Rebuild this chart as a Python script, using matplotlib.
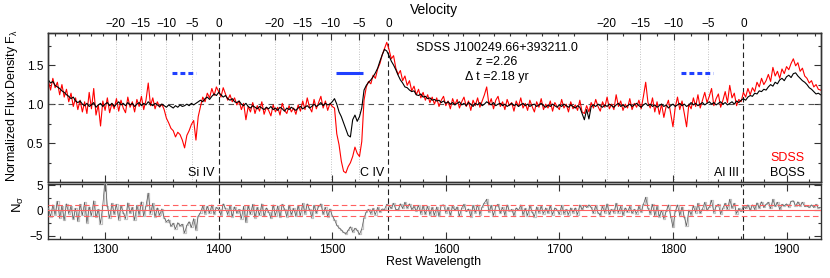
import numpy as np
import matplotlib
matplotlib.use('Agg')
import matplotlib.pyplot as plt
from matplotlib.ticker import MultipleLocator

plt.rcParams['font.family'] = ['Liberation Sans', 'DejaVu Sans']
plt.rcParams['mathtext.fontset'] = 'custom'
plt.rcParams['mathtext.rm'] = 'Liberation Sans'
plt.rcParams['mathtext.it'] = 'Liberation Sans'
plt.rcParams['mathtext.sf'] = 'Liberation Sans'

# ---------------- data ----------------
wave_start = 1250   # Angstrom, rest frame
wave_step = 2

boss = [
    1.31, 1.27, 1.29, 1.24, 1.22, 1.20, 1.17, 1.15, 1.12, 1.10,
    1.07, 1.09, 1.04, 1.02, 1.04, 1.00, 0.98, 1.01, 0.97, 0.99,
    1.02, 0.96, 0.99, 1.01, 0.97, 1.00, 1.02, 0.98, 1.01, 0.97,
    1.00, 1.03, 0.99, 1.01, 0.98, 1.02, 0.99, 1.01, 0.97, 1.00,
    1.02, 0.98, 1.01, 0.99, 1.03, 1.00, 0.98, 1.01, 0.99, 0.97,
    1.00, 0.98, 0.96, 0.99, 0.97, 0.95, 0.98, 0.96, 0.99, 0.97,
    0.98, 1.00, 0.98, 1.01, 0.99, 1.01, 1.03, 1.05, 1.03, 1.07,
    1.09, 1.06, 1.10, 1.13, 1.11, 1.15, 1.12, 1.09, 1.11, 1.07,
    1.05, 1.07, 1.03, 1.02, 1.04, 1.00, 0.98, 1.01, 0.97, 0.95,
    0.98, 0.96, 0.94, 0.97, 0.95, 0.93, 0.96, 0.94, 0.97, 0.93,
    0.95, 0.92, 0.96, 0.94, 0.91, 0.95, 0.93, 0.96, 0.94, 0.92,
    0.95, 0.97, 0.94, 0.96, 0.98, 0.95, 0.97, 1.00, 0.97, 0.99,
    1.02, 0.98, 1.01, 0.99, 1.00, 1.03, 1.07, 1.00, 0.90, 0.84,
    0.76, 0.68, 0.60, 0.58, 0.80, 0.86, 0.78, 0.84, 0.95, 1.18,
    1.24, 1.28, 1.31, 1.35, 1.40, 1.46, 1.55, 1.63, 1.70, 1.68,
    1.62, 1.55, 1.50, 1.44, 1.37, 1.31, 1.27, 1.22, 1.21, 1.18,
    1.16, 1.17, 1.12, 1.11, 1.13, 1.09, 1.10, 1.07, 1.08, 1.05,
    1.06, 1.04, 1.05, 1.02, 1.04, 1.01, 1.03, 1.00, 1.02, 0.99,
    1.01, 1.03, 0.99, 1.01, 0.98, 1.02, 1.00, 0.97, 1.01, 0.99,
    1.02, 0.98, 1.00, 1.03, 1.01, 0.99, 1.02, 0.98, 1.00, 1.01,
    0.98, 1.00, 0.97, 0.99, 1.01, 0.98, 1.00, 0.97, 0.99, 1.01,
    0.98, 1.00, 0.97, 0.99, 1.00, 0.97, 0.99, 1.01, 0.98, 0.96,
    0.99, 0.97, 1.00, 0.98, 0.96, 0.99, 0.97, 1.00, 0.98, 0.96,
    0.99, 0.97, 0.95, 0.98, 0.96, 0.88, 0.80, 0.93, 0.81, 0.97,
    0.99, 0.97, 1.00, 0.98, 0.96, 0.99, 0.97, 1.00, 0.98, 0.96,
    0.99, 1.01, 0.97, 0.99, 0.96, 0.98, 1.00, 0.97, 0.99, 1.01,
    0.98, 0.96, 0.99, 1.01, 0.98, 1.00, 0.97, 0.99, 0.96, 0.98,
    1.00, 0.97, 0.99, 0.95, 0.98, 1.00, 0.97, 0.99, 1.01, 0.98,
    1.00, 0.97, 0.99, 1.02, 0.99, 1.01, 0.98, 1.00, 1.02, 0.99,
    1.01, 1.03, 1.00, 1.02, 0.99, 1.01, 1.03, 1.00, 1.02, 0.99,
    1.01, 1.03, 1.00, 1.04, 1.02, 1.05, 1.07, 1.05, 1.09, 1.11,
    1.10, 1.14, 1.13, 1.17, 1.16, 1.19, 1.18, 1.22, 1.25, 1.23,
    1.28, 1.26, 1.31, 1.33, 1.30, 1.35, 1.37, 1.34, 1.39, 1.40,
    1.36, 1.33, 1.30, 1.28, 1.25, 1.21, 1.19, 1.16, 1.13, 1.14,
    1.12,
]

sdss = [
    1.30, 1.18, 1.33, 1.21, 1.28, 1.12, 1.25, 1.09, 1.19, 1.03,
    1.14, 0.97, 1.08, 0.93, 1.05, 0.90, 1.03, 0.88, 1.15, 0.94,
    1.20, 0.86, 0.99, 0.72, 1.04, 0.92, 1.08, 0.89, 1.01, 0.94,
    1.07, 0.91, 1.05, 0.95, 0.89, 1.09, 0.96, 1.03, 0.90, 1.06,
    0.97, 1.10, 0.93, 1.05, 1.27, 0.98, 1.08, 0.94, 1.03, 0.96,
    1.00, 0.93, 0.82, 0.76, 0.69, 0.66, 0.58, 0.64, 0.61, 0.54,
    0.44, 0.60, 0.66, 0.74, 0.79, 0.54, 0.84, 0.97, 1.09, 1.03,
    1.14, 1.08, 1.20, 1.11, 1.22, 1.16, 1.09, 1.21, 1.13, 1.05,
    1.12, 1.03, 1.08, 0.99, 1.04, 0.93, 1.01, 0.80, 0.97, 0.90,
    1.02, 0.88, 0.98, 0.91, 1.03, 0.87, 0.96, 0.92, 0.85, 0.99,
    0.90, 0.96, 0.86, 1.01, 0.92, 0.88, 0.98, 0.90, 0.95, 0.87,
    0.99, 0.91, 1.04, 0.93, 1.08, 0.96, 0.90, 1.06, 0.94, 1.02,
    1.10, 0.95, 1.04, 0.92, 1.01, 0.97, 0.95, 0.62, 0.48, 0.27,
    0.14, 0.12, 0.20, 0.25, 0.33, 0.45, 0.37, 0.33, 0.52, 1.05,
    1.22, 1.29, 1.26, 1.37, 1.33, 1.45, 1.52, 1.63, 1.71, 1.79,
    1.70, 1.58, 1.62, 1.46, 1.38, 1.43, 1.30, 1.36, 1.24, 1.30,
    1.17, 1.23, 1.12, 1.19, 1.08, 1.15, 1.05, 1.12, 1.02, 1.09,
    1.00, 1.08, 0.97, 1.05, 1.10, 0.98, 1.04, 0.94, 1.07, 0.99,
    1.06, 0.95, 1.03, 1.09, 0.97, 1.04, 0.92, 1.05, 0.98, 1.08,
    0.96, 1.04, 1.12, 1.22, 0.99, 1.07, 0.94, 1.05, 1.10, 0.97,
    1.03, 0.93, 1.06, 0.98, 1.02, 0.91, 1.04, 0.97, 1.08, 0.95,
    1.01, 0.92, 1.05, 0.97, 0.90, 1.03, 0.96, 1.07, 0.93, 1.00,
    0.95, 1.04, 0.91, 1.02, 0.97, 0.93, 1.06, 0.95, 1.00, 0.90,
    1.03, 0.94, 0.99, 0.92, 1.05, 0.90, 0.88, 0.98, 0.90, 1.02,
    0.95, 1.06, 0.97, 0.91, 1.03, 0.96, 1.09, 0.94, 1.00, 0.93,
    1.12, 0.97, 1.04, 0.92, 1.00, 0.95, 1.07, 0.93, 1.01, 0.96,
    1.05, 0.94, 1.10, 1.28, 1.02, 0.95, 1.08, 0.90, 1.03, 0.87,
    1.00, 0.83, 0.97, 1.05, 0.88, 0.71, 0.96, 1.09, 0.93, 1.04,
    0.88, 0.71, 1.00, 0.94, 1.08, 0.97, 1.12, 0.95, 1.05, 1.15,
    1.02, 1.10, 1.20, 0.98, 1.07, 1.13, 0.96, 1.05, 1.16, 1.02,
    1.24, 1.08, 1.14, 0.98, 1.06, 1.03, 1.15, 1.09, 1.20, 1.12,
    1.21, 1.16, 1.28, 1.22, 1.33, 1.25, 1.30, 1.38, 1.29, 1.47,
    1.36, 1.42, 1.33, 1.45, 1.39, 1.48, 1.44, 1.52, 1.58, 1.49,
    1.53, 1.42, 1.46, 1.36, 1.33, 1.27, 1.30, 1.22, 1.25, 1.19,
    1.18,
]

nsigma = [
    0.5, -1.2, 1.1, -0.8, 1.8, -1.5, 0.9, -1.9, 1.3, -0.6,
    0.8, -1.7, 0.4, -2.1, 1.2, -0.9, 1.6, -2.4, 0.7, -1.0,
    1.9, -1.3, 0.2, -2.6, 1.1, 6.2, 0.8, -1.5, 1.4, -0.7,
    1.2, -1.8, 0.9, -0.4, -1.6, 1.5, -0.5, 0.6, -1.9, 1.0,
    -0.8, 1.7, -1.1, 0.9, 3.4, -0.6, 1.4, -1.2, 0.5, -0.9,
    0.3, -1.4, -2.2, -1.8, -3.1, -2.5, -3.6, -2.4, -3.0, -2.7,
    -4.4, -2.9, -2.2, -3.3, -1.6, -3.8, -1.1, -0.4, 0.9, -0.6,
    0.8, -0.5, 1.1, -0.7, 0.6, 0.2, -0.9, 1.3, 0.4, -0.8,
    1.0, -1.2, 0.7, -0.5, 0.2, -1.6, 0.8, -2.3, 0.9, -0.7,
    1.2, -1.4, 0.6, -0.9, 1.3, -1.1, 0.5, -0.3, -1.5, 1.1,
    -1.0, 0.9, -1.3, 1.2, 0.3, -1.2, 1.0, -0.8, 0.4, -1.1,
    0.9, -1.0, 1.4, -0.6, 1.3, 0.2, -1.4, 1.0, -0.5, 0.8,
    1.3, -0.7, 0.6, -1.2, 0.3, -1.0, -1.8, -2.9, -3.4, -3.8,
    -4.3, -4.6, -3.9, -3.2, -4.2, -3.5, -3.9, -4.7, -3.6, -1.4,
    -0.3, 0.2, -0.6, 0.4, -0.8, 0.6, -0.3, 0.3, 0.2, 1.2,
    0.9, 0.4, 1.4, 0.2, 0.1, 1.3, 0.4, 1.6, 0.5, 1.3,
    0.2, 0.8, -0.1, 1.0, -0.6, 0.9, -0.7, 0.8, -0.8, 0.6,
    -0.9, 0.7, -1.1, 1.0, 1.1, -0.4, 0.6, -0.9, 0.8, 0.0,
    0.7, -1.1, 0.5, 1.2, -0.2, 0.3, -1.2, 1.0, -0.4, 1.1,
    -0.8, 0.7, 1.5, 2.2, -0.3, 1.0, -1.0, 0.9, 1.2, -0.5,
    0.6, -0.9, 1.1, -0.1, 0.2, -1.0, 0.5, 0.0, 1.1, -0.8,
    0.4, -1.0, 1.0, -0.3, -1.2, 0.7, -0.4, 0.8, -0.6, 0.5,
    -0.5, 0.9, -0.8, 0.5, 0.1, -0.7, 1.0, -0.6, 0.2, -0.8,
    0.5, -0.4, 0.5, -0.8, 1.1, 0.2, 1.0, 0.6, 1.1, 0.6,
    -0.5, 1.0, -0.4, -0.9, 0.8, -0.4, 1.3, -0.7, 0.2, -0.4,
    1.4, -0.4, 0.8, -0.9, 0.5, -0.3, 0.8, -0.5, 0.2, -0.6,
    0.8, -0.3, 1.2, 2.6, 0.5, -0.6, 1.2, -1.0, 0.8, -1.2,
    0.0, -1.6, -0.2, 1.1, -1.2, -3.3, -0.2, 1.1, -1.0, 0.7,
    -1.3, -3.0, 0.1, -0.8, 0.9, -0.4, 1.4, -0.5, 0.3, 1.6,
    0.1, 0.7, 2.0, -0.4, 0.8, 1.2, -0.7, 0.5, 1.4, 0.3,
    2.2, 0.5, 1.4, -0.6, 0.4, -0.2, 0.8, 0.4, 1.1, 0.1,
    1.1, 0.2, 1.5, 0.5, 1.7, 0.6, 1.2, 1.6, 0.4, 2.2,
    0.8, 1.6, 0.2, 1.2, 0.9, 1.3, 0.7, 1.8, 1.9, 0.9,
    1.7, 0.9, 1.6, 0.8, 0.9, 0.6, 1.1, 0.6, 1.2, 0.5,
    0.6,
]

line_names = ['Si IV', 'C IV', 'Al III']
line_centers = [1400.0, 1549.5, 1862.0]      # Angstrom (zero velocity)
vel_major = [-20, -15, -10, -5, 0]           # 1000 km/s
trough_v = (-9.0, -4.3)                      # BAL trough velocity range
trough_level = 1.40
object_name = 'SDSS J100249.66+393211.0'
redshift = 2.26
delta_t = 2.18

wave = wave_start + wave_step * np.arange(len(boss))

C_KMS = 299.792458  # in 1000 km/s


def vel_to_lam(v, lam0):
    b = v / C_KMS
    return lam0 * np.sqrt((1 + b) / (1 - b))


# ---------------- figure ----------------
W_PX, H_PX = 830, 278
fig = plt.figure(figsize=(W_PX / 100, H_PX / 100), dpi=100)
left = 48.3 / W_PX
width = (820.6 - 48.3) / W_PX
ax1 = fig.add_axes([left, 1 - 181.5 / H_PX, width, (181.5 - 33) / H_PX])
ax2 = fig.add_axes([left, 1 - 239 / H_PX, width, (239 - 184) / H_PX])
xlim = (1250, 1930)

spine_c = '#333333'
for ax in (ax1, ax2):
    for s in ax.spines.values():
        s.set_linewidth(1.0)
        s.set_color(spine_c)

# ---- top panel ----
ax1.plot(wave, sdss, color='#ff0000', lw=0.8, zorder=3)
ax1.plot(wave, boss, color='black', lw=0.8, zorder=4)
ax1.axhline(1.0, color='#555555', lw=0.8, ls=(0, (5, 4)), zorder=2)

blue = '#2040ff'
for name, lam0 in zip(line_names, line_centers):
    ax1.axvline(lam0, color='#222222', lw=0.8, ls=(0, (5, 3)), zorder=2)
    ax2.axvline(lam0, color='#222222', lw=0.8, ls=(0, (5, 3)), zorder=2)
    for v in vel_major[:-1]:
        ax1.axvline(vel_to_lam(v, lam0), color='#b0b0b0', lw=0.6,
                    ls=(0, (1, 2)), zorder=1)
    x0 = vel_to_lam(trough_v[0], lam0)
    x1 = vel_to_lam(trough_v[1], lam0)
    if name == 'C IV':
        ax1.plot([x0, x1], [trough_level, trough_level], color=blue, lw=2.2,
                 solid_capstyle='butt', zorder=5)
    else:
        ax1.plot([x0, x1], [trough_level, trough_level], color=blue, lw=2.2,
                 ls=(0, (1.6, 1.0)), dash_capstyle='butt', zorder=5)
    ax1.text(lam0 - 4, 0.057, name, transform=ax1.get_xaxis_transform(),
             ha='right', va='center', fontsize=9)

ax1.set_xlim(*xlim)
ax1.set_ylim(0.01, 1.91)
ax1.xaxis.set_major_locator(MultipleLocator(100))
ax1.xaxis.set_minor_locator(MultipleLocator(20))
ax1.yaxis.set_major_locator(MultipleLocator(0.5))
ax1.yaxis.set_minor_locator(MultipleLocator(0.25))
ax1.tick_params(axis='both', which='both', direction='in', right=True,
                labelbottom=False, colors=spine_c, labelcolor='black')
ax1.tick_params(axis='both', which='major', length=5, width=0.8, labelsize=8.5)
ax1.tick_params(axis='both', which='minor', length=2.5, width=0.8)
ax1.tick_params(axis='x', top=False)

# velocity axis on top
axt = ax1.twiny()
axt.set_xlim(*xlim)
maj_pos, maj_lab, min_pos = [], [], []
bounds = [(xlim[0], 1430), (1430, 1735), (1735, xlim[1])]
for lam0, (lo, hi) in zip(line_centers, bounds):
    for v in vel_major:
        maj_pos.append(vel_to_lam(v, lam0))
        maj_lab.append(('\u2212%d' % -v) if v < 0 else '%d' % v)
    for k in range(-16, 13):
        v = 2.5 * k
        if v in vel_major:
            continue
        p = vel_to_lam(v, lam0)
        if lo <= p < hi:
            min_pos.append(p)
axt.set_xticks(maj_pos)
axt.set_xticklabels(maj_lab)
axt.set_xticks(min_pos, minor=True)
axt.tick_params(axis='x', which='both', direction='in', colors=spine_c,
                labelcolor='black')
axt.tick_params(axis='x', which='major', length=5, width=0.8, labelsize=8.5, pad=2)
axt.tick_params(axis='x', which='minor', length=2.5, width=0.8)
for s in axt.spines.values():
    s.set_linewidth(1.0)
    s.set_color(spine_c)

# annotations
xc = (497 - 48.3) / (820.6 - 48.3)
ax1.text(xc, 0.899, object_name, transform=ax1.transAxes, ha='center',
         va='center', fontsize=9)
ax1.text(xc, 0.805, 'z =%.2f' % redshift, transform=ax1.transAxes,
         ha='center', va='center', fontsize=9)
ax1.text(xc, 0.703, '\u0394 t =%.2f yr' % delta_t, transform=ax1.transAxes,
         ha='center', va='center', fontsize=9)
xr = (805 - 48.3) / (820.6 - 48.3)
ax1.text(xr, 0.158, 'SDSS', color='#ff0000', transform=ax1.transAxes,
         ha='right', va='center', fontsize=9)
ax1.text(xr, 0.057, 'BOSS', color='black', transform=ax1.transAxes,
         ha='right', va='center', fontsize=9)

# ---- bottom panel ----
ax2.plot(wave, nsigma, color='#c4c4c4', lw=0.9, drawstyle='steps-mid', zorder=3)
ax2.plot(wave, nsigma, color='#5a5a5a', lw=0.5, zorder=4)
ax2.axhline(0, color='#ff6060', lw=0.8, zorder=5)
ax2.axhline(1, color='#ff6060', lw=0.8, ls=(0, (5, 3)), zorder=5)
ax2.axhline(-1, color='#ff6060', lw=0.8, ls=(0, (5, 3)), zorder=5)
ax2.set_xlim(*xlim)
ax2.set_ylim(-5.6, 5.2)
ax2.set_yticks([-5, 0, 5])
ax2.yaxis.set_minor_locator(MultipleLocator(2.5))
ax2.xaxis.set_major_locator(MultipleLocator(100))
ax2.xaxis.set_minor_locator(MultipleLocator(20))
ax2.tick_params(axis='both', which='both', direction='in', top=True, right=True,
                colors=spine_c, labelcolor='black')
ax2.tick_params(axis='both', which='major', length=5, width=0.8, labelsize=8.5)
ax2.tick_params(axis='both', which='minor', length=2.5, width=0.8)

# axis titles
fig.text(434 / W_PX, 1 - 10 / H_PX, 'Velocity', ha='center', va='center',
         fontsize=10)
fig.text(434 / W_PX, 1 - 262 / H_PX, 'Rest Wavelength', ha='center',
         va='center', fontsize=9)
fig.text(12.5 / W_PX, 1 - 106 / H_PX, r'Normalized Flux Density F$_\lambda$',
         ha='center', va='center', rotation=90, fontsize=9)
fig.text(18 / W_PX, 1 - 204 / H_PX, r'N$_\sigma$', ha='center', va='center',
         rotation=90, fontsize=9.5)

fig.savefig('out.png', dpi=100)
